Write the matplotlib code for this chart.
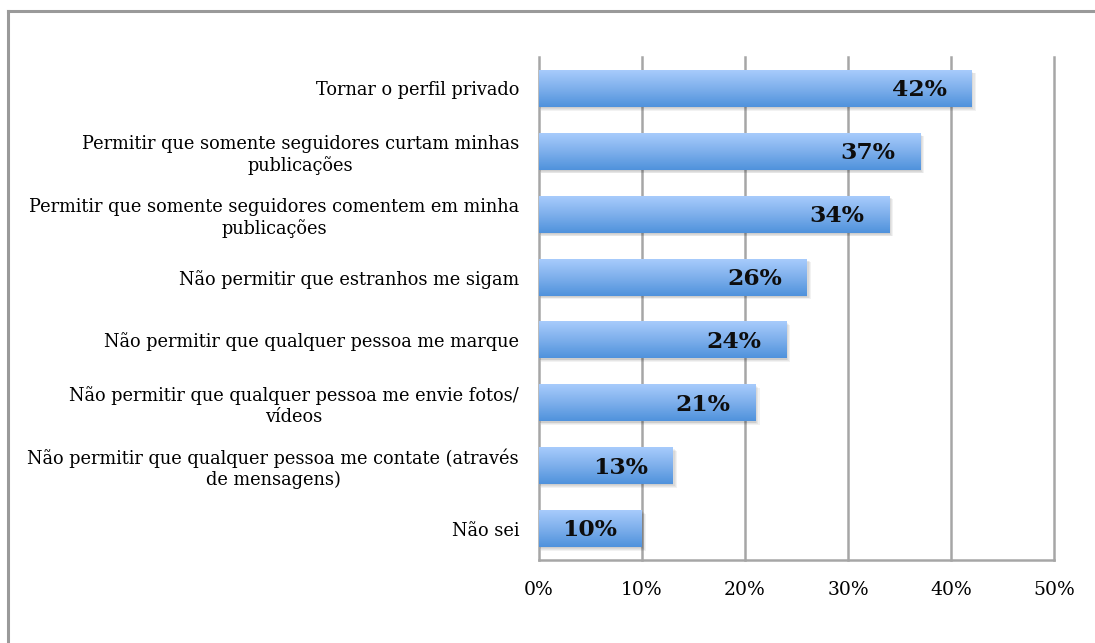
import matplotlib
matplotlib.use("Agg")
import matplotlib.pyplot as plt
import numpy as np
from matplotlib.patches import Rectangle
from matplotlib.lines import Line2D
from matplotlib.colors import LinearSegmentedColormap

categories = [
    "Tornar o perfil privado",
    "Permitir que somente seguidores curtam minhas\npublicações",
    "Permitir que somente seguidores comentem em minha\npublicações",
    "Não permitir que estranhos me sigam",
    "Não permitir que qualquer pessoa me marque",
    "Não permitir que qualquer pessoa me envie fotos/\nvídeos",
    "Não permitir que qualquer pessoa me contate (através\nde mensagens)",
    "Não sei",
]
values = [42, 37, 34, 26, 24, 21, 13, 10]
xticks = [0, 10, 20, 30, 40, 50]

plt.rcParams['font.family'] = ['DejaVu Serif']

W, H = 1095, 643
fig = plt.figure(figsize=(W / 100, H / 100), dpi=100)

# outer frame (top and left edges visible)
fc = "#9a9a9a"
fig.lines.append(Line2D([8 / W, 1.0], [1 - 11 / H, 1 - 11 / H], transform=fig.transFigure,
                        color=fc, linewidth=2.2))
fig.lines.append(Line2D([8 / W, 8 / W], [0, 1 - 11 / H], transform=fig.transFigure,
                        color=fc, linewidth=2.2))

ax = fig.add_axes([539 / W, 1 - 560 / H, (1054 - 539) / W, (560 - 57) / H])
n = len(categories)

bar_h = 0.59
cmap = LinearSegmentedColormap.from_list("g", ["#aacdfd", "#7fb0ec", "#4f92dc"])
grad = np.linspace(0, 1, 256).reshape(-1, 1)

for t in xticks:
    ax.axvline(t, color="#a6a6a6", linewidth=1.8, zorder=0.5, clip_on=False)

for i, v in enumerate(values):
    # soft shadow
    for k in range(4):
        off = 0.02 + k * 0.012
        sh = Rectangle((0.05 + k * 0.06, i - bar_h / 2 + off), v + k * 0.06, bar_h,
                       facecolor="#000000", alpha=0.05, edgecolor="none", zorder=2)
        ax.add_patch(sh)
    rect = Rectangle((0, i - bar_h / 2), v, bar_h, facecolor="none",
                     edgecolor="none", zorder=3)
    ax.add_patch(rect)
    im = ax.imshow(grad, cmap=cmap, aspect="auto",
                   extent=(0, v, i + bar_h / 2, i - bar_h / 2), zorder=3,
                   interpolation="bicubic")
    im.set_clip_path(rect)
    ax.text(v - 2.4, i + 0.03, f"{v}%", ha="right", va="center",
            fontsize=16.8, fontweight="bold", color="#0d0d0d", zorder=5)

ax.set_xlim(0, 50)
ax.set_ylim(n - 0.5, -0.5)
ax.set_xticks(xticks)
ax.set_xticklabels([f"{t}%" for t in xticks], fontsize=13.5)
ax.set_yticks(range(n))
ax.set_yticklabels(categories, fontsize=12.8, multialignment="center")
ax.tick_params(axis="x", length=0, pad=15)
ax.tick_params(axis="y", length=0, pad=14.4)
for s in ["top", "right", "left"]:
    ax.spines[s].set_visible(False)
ax.spines["bottom"].set_color("#a6a6a6")
ax.spines["bottom"].set_linewidth(1.8)
ax.set_facecolor("none")

fig.savefig("out.png", dpi=100)
